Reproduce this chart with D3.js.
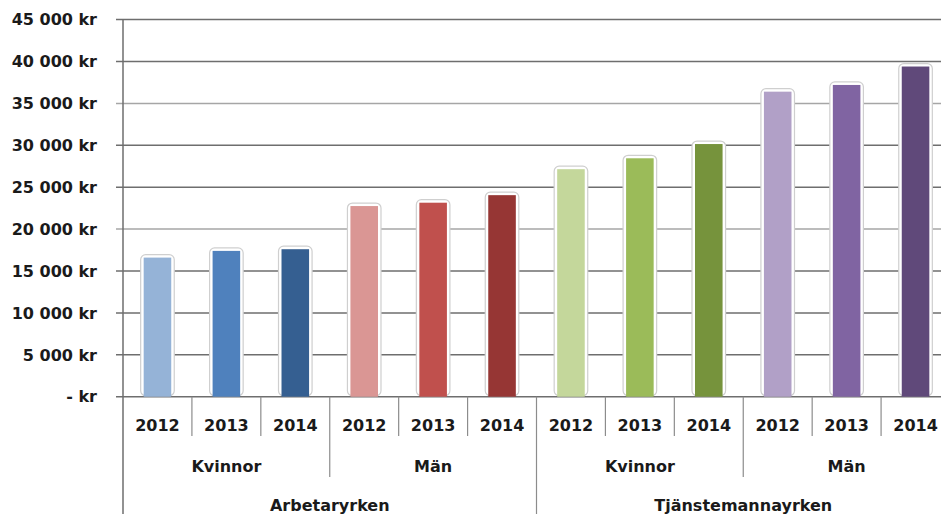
<!DOCTYPE html>
<html>
<head>
<meta charset="utf-8">
<script src="https://cdn.jsdelivr.net/npm/d3@7"></script>
<style>
body { margin: 0; background: #fff; }
text { font-family: "DejaVu Sans", sans-serif; }
</style>
</head>
<body>
<svg width="941" height="514"></svg>
<script>
var groups = ["Arbetaryrken", "Tjänstemannayrken"];
var genders = ["Kvinnor", "Män"];
var years = ["2012", "2013", "2014"];

// månadslön per år
var arbKvinnor = [16600, 17400, 17600];
var arbMan = [22750, 23150, 24050];
var tjmKvinnor = [27150, 28450, 30150];
var tjmMan = [36400, 37200, 39400];

var yTicks = [0, 5000, 10000, 15000, 20000, 25000, 30000, 35000, 40000, 45000];

var colors = [
    ["#95B3D7", "#4F81BD", "#355F91"],
    ["#DA9694", "#C0504D", "#963634"],
    ["#C4D79B", "#9BBB59", "#76933C"],
    ["#B1A0C7", "#8064A2", "#60497A"]
];

var series = [arbKvinnor, arbMan, tjmKvinnor, tjmMan];
var rows = [];
series.forEach(function(s, si) {
    s.forEach(function(v, yi) {
        rows.push({ i: rows.length, group: groups[si >> 1], gender: genders[si % 2], year: years[yi], value: v, color: colors[si][yi] });
    });
});

var svg = d3.select("svg");

var x0 = 123, x1 = 950;
var slot = d3.scaleBand().domain(d3.range(12)).range([x0, x1]).padding(0);
var bar = d3.scaleBand().domain(d3.range(12)).range([x0, x1]).paddingInner(0.6).paddingOuter(0.3);
var y = d3.scaleLinear().domain([0, 45000]).range([396.7, 19.6]);

function fmt(v) {
    return v === 0 ? "- kr" : d3.format(",")(v).replace(/,/g, " ") + " kr";
}

// rutnät
svg.append("g").selectAll("line")
    .data(yTicks)
    .enter().append("line")
    .attr("x1", 116).attr("x2", 941)
    .attr("y1", function(d) { return y(d); })
    .attr("y2", function(d) { return y(d); })
    .attr("stroke", function(d) { return (d === 35000 || d === 20000) ? "#a6a6a6" : "#6e6e6e"; })
    .attr("stroke-width", 1.5);

svg.append("g").selectAll("text")
    .data(yTicks)
    .enter().append("text")
    .attr("x", 97)
    .attr("y", function(d) { return y(d); })
    .attr("dy", "0.36em")
    .attr("text-anchor", "end")
    .attr("font-size", "16px")
    .attr("font-weight", "bold")
    .attr("fill", "#1a1a1a")
    .text(fmt);

// staplar med ljus kant
var b = svg.append("g").selectAll("g")
    .data(rows)
    .enter().append("g");

b.append("rect")
    .attr("x", function(d) { return bar(d.i) - 3; })
    .attr("y", function(d) { return y(d.value) - 3; })
    .attr("width", bar.bandwidth() + 6)
    .attr("height", function(d) { return y(0) - y(d.value) + 2; })
    .attr("rx", 5)
    .attr("fill", "#fff")
    .attr("stroke", "#cfcfcf")
    .attr("stroke-width", 1.2);

b.append("rect")
    .attr("x", function(d) { return bar(d.i); })
    .attr("y", function(d) { return y(d.value); })
    .attr("width", bar.bandwidth())
    .attr("height", function(d) { return y(0) - y(d.value); })
    .attr("fill", function(d) { return d.color; });

// y-axel
svg.append("line")
    .attr("x1", x0).attr("x2", x0)
    .attr("y1", y(45000)).attr("y2", 514)
    .attr("stroke", "#6e6e6e").attr("stroke-width", 1.5);

// kategoriaxel
var base = y(0);
svg.append("g").selectAll("line")
    .data(d3.range(1, 13))
    .enter().append("line")
    .attr("x1", function(d) { return x0 + d * slot.step(); })
    .attr("x2", function(d) { return x0 + d * slot.step(); })
    .attr("y1", base)
    .attr("y2", function(d) { return d % 6 === 0 ? 514 : (d % 3 === 0 ? 477 : 436); })
    .attr("stroke", "#8c8c8c")
    .attr("stroke-width", 1.2);

svg.append("g").selectAll("text")
    .data(rows)
    .enter().append("text")
    .attr("x", function(d) { return slot(d.i) + slot.bandwidth() / 2; })
    .attr("y", 431)
    .attr("text-anchor", "middle")
    .attr("font-size", "16px")
    .attr("font-weight", "bold")
    .attr("fill", "#1a1a1a")
    .text(function(d) { return d.year; });

svg.append("g").selectAll("text")
    .data(d3.range(4))
    .enter().append("text")
    .attr("x", function(d) { return x0 + (d * 3 + 1.5) * slot.step(); })
    .attr("y", 472)
    .attr("text-anchor", "middle")
    .attr("font-size", "16px")
    .attr("font-weight", "bold")
    .attr("fill", "#1a1a1a")
    .text(function(d) { return genders[d % 2]; });

svg.append("g").selectAll("text")
    .data(groups)
    .enter().append("text")
    .attr("x", function(d, i) { return x0 + (i * 6 + 3) * slot.step(); })
    .attr("y", 511)
    .attr("text-anchor", "middle")
    .attr("font-size", "16px")
    .attr("font-weight", "bold")
    .attr("fill", "#1a1a1a")
    .text(function(d) { return d; });
</script>
</body>
</html>
